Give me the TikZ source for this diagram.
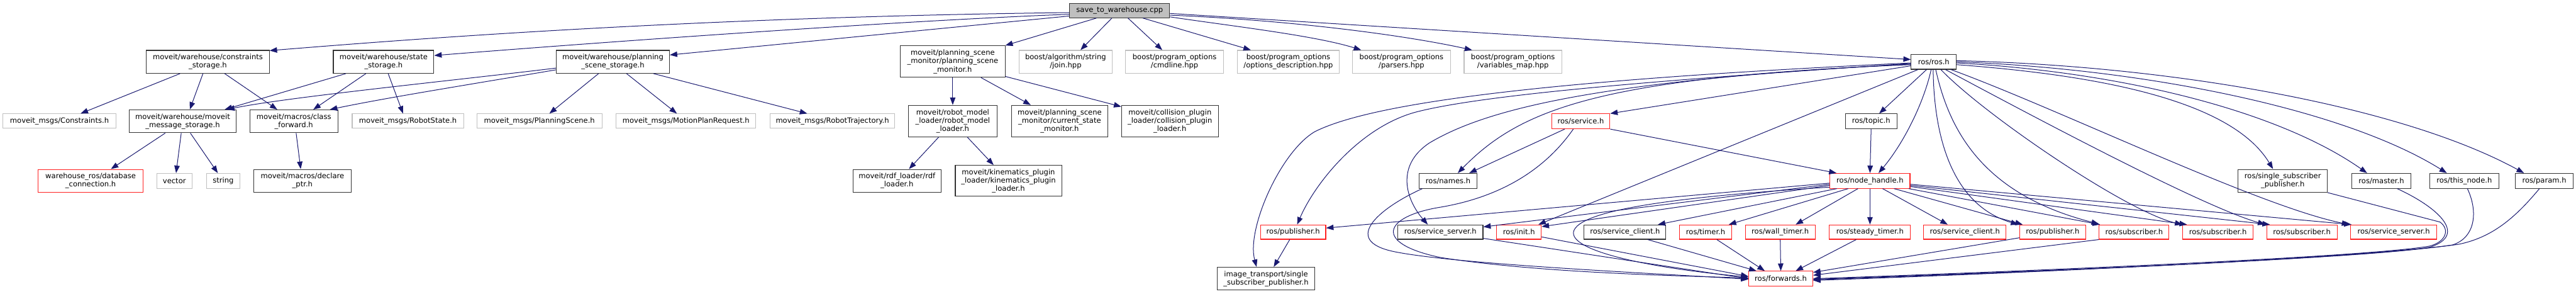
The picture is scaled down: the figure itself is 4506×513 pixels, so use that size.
\documentclass[tikz,border=0pt]{standalone}
\usepackage{fontspec}
\setmainfont{DejaVu Sans}
\usetikzlibrary{calc,arrows.meta}
\definecolor{edgec}{HTML}{191970}
\definecolor{gbord}{HTML}{BFBFBF}
\definecolor{rbord}{HTML}{FF2020}
\definecolor{kbord}{HTML}{333333}
\tikzset{
  base/.style={rectangle, inner sep=0pt, align=center, fill=white, line width=1.2pt,
    font=\fontsize{12.7}{14.6}\selectfont},
  bk/.style={base, draw=kbord},
  gy/.style={base, draw=gbord},
  rd/.style={base, draw=rbord},
  rootbox/.style={base, draw=kbord, fill=gbord},
  sz/.style 2 args={minimum width=#1pt, minimum height=#2pt},
  arr/.style={draw=edgec, line width=1.1pt, -{Triangle[length=13pt,width=9.5pt]}},
}
\begin{document}
\begin{tikzpicture}[x=1pt,y=-1pt]
\fill[white] (0,0) rectangle (4506,513);
\useasboundingbox (0,0) rectangle (4506,513);

% layer 0/1
\node[rootbox, sz={175}{25}] (S) at (1958.5,18.5) {save\_to\_warehouse.cpp};
\node[bk, sz={215}{40}] (cs) at (363.5,108) {moveit/warehouse/constraints\\\_storage.h};
\node[bk, sz={176}{40}] (ss) at (671,108) {moveit/warehouse/state\\\_storage.h};
\node[bk, sz={198}{40}] (pss) at (1072,108) {moveit/warehouse/planning\\\_scene\_storage.h};
\node[bk, sz={183}{55}] (psm) at (1666.5,107.5) {moveit/planning\_scene\\\_monitor/planning\_scene\\\_monitor.h};
\node[gy, sz={162}{40}] (join) at (1864,108) {boost/algorithm/string\\/join.hpp};
\node[gy, sz={171}{40}] (cmd) at (2054.5,108) {boost/program\_options\\/cmdline.hpp};
\node[gy, sz={179}{40}] (od) at (2253.5,108) {boost/program\_options\\/options\_description.hpp};
\node[gy, sz={171}{40}] (par) at (2451.5,108) {boost/program\_options\\/parsers.hpp};
\node[gy, sz={171}{40}] (vm) at (2646.5,108) {boost/program\_options\\/variables\_map.hpp};
\node[bk, sz={79}{26}] (ros) at (3382.5,108) {ros/ros.h};

% layer 2
\node[gy, sz={198}{25}] (cons) at (104,211.5) {moveit\_msgs/Constraints.h};
\node[bk, sz={187}{40}] (ms) at (319.5,212) {moveit/warehouse/moveit\\\_message\_storage.h};
\node[bk, sz={154}{40}] (cf) at (514,212) {moveit/macros/class\\\_forward.h};
\node[gy, sz={195}{25}] (rs) at (713.5,211.5) {moveit\_msgs/RobotState.h};
\node[gy, sz={219}{25}] (psh) at (943.5,211.5) {moveit\_msgs/PlanningScene.h};
\node[gy, sz={244}{25}] (mpr) at (1200,211.5) {moveit\_msgs/MotionPlanRequest.h};
\node[gy, sz={218}{25}] (rtj) at (1456,211.5) {moveit\_msgs/RobotTrajectory.h};
\node[bk, sz={155}{55}] (rml) at (1666.5,211.5) {moveit/robot\_model\\\_loader/robot\_model\\\_loader.h};
\node[bk, sz={169}{55}] (csm) at (1853.5,211.5) {moveit/planning\_scene\\\_monitor/current\_state\\\_monitor.h};
\node[bk, sz={169}{55}] (cpl) at (2046.5,211.5) {moveit/collision\_plugin\\\_loader/collision\_plugin\\\_loader.h};
\node[rd, sz={102}{26}] (svc) at (2765,212) {ros/service.h};
\node[bk, sz={90}{26}] (topic) at (3273,212) {ros/topic.h};

% layer 3
\node[rd, sz={183}{40}] (dbc) at (158.5,316) {warehouse\_ros/database\\\_connection.h};
\node[gy, sz={62}{26}] (vec) at (305,316) {vector};
\node[gy, sz={59}{26}] (str) at (390.5,316) {string};
\node[bk, sz={170}{40}] (dp) at (529,316) {moveit/macros/declare\\\_ptr.h};
\node[bk, sz={154}{40}] (rdf) at (1569,316) {moveit/rdf\_loader/rdf\\\_loader.h};
\node[bk, sz={186}{54}] (kpl) at (1764,316) {moveit/kinematics\_plugin\\\_loader/kinematics\_plugin\\\_loader.h};
\node[bk, sz={102}{26}] (names) at (2533,316) {ros/names.h};
\node[rd, sz={140}{26}] (nh) at (3271,316) {ros/node\_handle.h};
\node[bk, sz={156}{40}] (ssp) at (3993,316) {ros/single\_subscriber\\\_publisher.h};
\node[bk, sz={103}{26}] (master) at (4165.5,316) {ros/master.h};
\node[bk, sz={121}{26}] (thisnode) at (4310.5,316) {ros/this\_node.h};
\node[bk, sz={101}{26}] (param) at (4450.5,316) {ros/param.h};

% layer 4
\node[rd, sz={114}{25}] (pubL) at (2262,405.5) {ros/publisher.h};
\node[bk, sz={149}{25}] (ssrvL) at (2519.5,405.5) {ros/service\_server.h};
\node[rd, sz={78}{25}] (init) at (2657,405.5) {ros/init.h};
\node[bk, sz={143}{25}] (sclL) at (2842.5,405.5) {ros/service\_client.h};
\node[rd, sz={91}{25}] (timer) at (2983.5,405.5) {ros/timer.h};
\node[rd, sz={122}{25}] (wall) at (3114,405.5) {ros/wall\_timer.h};
\node[rd, sz={142}{25}] (steady) at (3271,405.5) {ros/steady\_timer.h};
\node[rd, sz={144}{25}] (sclR) at (3437,405.5) {ros/service\_client.h};
\node[rd, sz={115}{25}] (pubR) at (3590.5,405.5) {ros/publisher.h};
\node[rd, sz={122}{25}] (sub1) at (3733,405.5) {ros/subscriber.h};
\node[rd, sz={123}{25}] (sub2) at (3879.5,405.5) {ros/subscriber.h};
\node[rd, sz={123}{25}] (sub3) at (4026.5,405.5) {ros/subscriber.h};
\node[rd, sz={150}{25}] (ssrvR) at (4187,405.5) {ros/service\_server.h};

% layer 5
\node[bk, sz={171}{40}] (it) at (2214.5,487) {image\_transport/single\\\_subscriber\_publisher.h};
\node[rd, sz={112}{26}] (fwd) at (3115,487) {ros/forwards.h};

% ---- edges from root
\draw[arr] ($(S.west)+(0,3.5)$) .. controls (1200,30) and (700,70) .. ($(cs.north east)+(0,1)$);
\draw[arr] ($(S.west)+(0,6.5)$) .. controls (1600,35) and (1100,70) .. ($(ss.east)+(0,-11)$);
\draw[arr] ($(S.west)+(0,9.5)$) -- ($(pss.east)+(0,-12)$);
\draw[arr] ($(S.south)+(-40.5,0)$) -- (psm.north east);
\draw[arr] ($(S.south)+(-13.5,0)$) -- ($(join.north)+(26,0)$);
\draw[arr] ($(S.south)+(14.5,0)$) -- ($(cmd.north)+(-21.5,0)$);
\draw[arr] ($(S.south)+(40.5,0)$) -- ($(od.north)+(-65.5,0)$);
\draw[arr] ($(S.east)+(0,11)$) .. controls (2150,45) and (2300,62) .. ($(par.north)+(-70.5,0)$);
\draw[arr] ($(S.east)+(0,8)$) .. controls (2250,35) and (2450,60) .. ($(vm.north)+(-71.5,0)$);
\draw[arr] ($(S.east)+(0,5)$) -- ($(ros.west)+(0,-4)$);

% ---- moveit part
\draw[arr] ($(cs.south)+(-48.5,0)$) -- ($(cons.north)+(37,0)$);
\draw[arr] ($(cs.south)+(-8.5,0)$) -- ($(ms.north)+(12.5,0)$);
\draw[arr] ($(cs.south)+(29.5,0)$) -- ($(cf.north)+(-29,0)$);
\draw[arr] ($(ss.south)+(-66,0)$) -- ($(ms.north)+(73.5,0)$);
\draw[arr] ($(ss.south)+(-31,0)$) -- ($(cf.north)+(34,0)$);
\draw[arr] ($(ss.south)+(8,0)$) -- ($(rs.north)+(-8.5,0)$);
\draw[arr] ($(pss.west)+(0,11)$) .. controls (800,140) and (500,170) .. ($(ms.north)+(77.5,0)$);
\draw[arr] ($(pss.west)+(0,14)$) .. controls (820,148) and (680,170) .. ($(cf.north)+(63,0)$);
\draw[arr] ($(pss.south)+(-25,0)$) -- ($(psh.north)+(17.5,0)$);
\draw[arr] ($(pss.south)+(24,0)$) -- ($(mpr.north)+(-16,0)$);
\draw[arr] ($(pss.south)+(71,0)$) -- ($(rtj.north)+(-44,0)$);
\draw[arr] ($(ms.south)+(-30.5,0)$) -- ($(dbc.north)+(35.5,0)$);
\draw[arr] ($(ms.south)+(-2.5,0)$) -- ($(vec.north)+(3,0)$);
\draw[arr] ($(ms.south)+(13.5,0)$) -- ($(str.north)+(-9.5,0)$);
\draw[arr] ($(cf.south)+(4,0)$) -- ($(dp.north)+(-3,0)$);
\draw[arr] (psm.south) -- (rml.north);
\draw[arr] ($(psm.south)+(49.5,0)$) -- ($(csm.north)+(-50.5,0)$);
\draw[arr] ($(psm.south east)+(0,-2)$) -- ($(cpl.north west)+(0,3)$);
\draw[arr] ($(rml.south)+(-24.5,0)$) -- ($(rdf.north)+(21,0)$);
\draw[arr] ($(rml.south)+(25.5,0)$) -- ($(kpl.north)+(-26,0)$);

% ---- ros.h
\draw[arr] ($(ros.west)+(0,2)$) .. controls (2700,140) and (2400,180) .. (2300,230)
   .. controls (2240,265) and (2180,400) .. ($(it.north)+(-16.5,0)$);
\draw[arr] ($(ros.west)+(0,3)$) .. controls (2900,140) and (2600,165) .. (2480,195)
   .. controls (2380,220) and (2300,320) .. ($(pubL.north)+(7,0)$);
\draw[arr] ($(ros.west)+(0,4)$) .. controls (2800,140) and (2600,190) .. (2500,250)
   .. controls (2440,290) and (2460,350) .. ($(ssrvL.north)+(-22,0)$);
\draw[arr] ($(ros.west)+(0,5)$) .. controls (2800,135) and (2660,190) .. ($(names.north)+(17,0)$);
\draw[arr] ($(ros.west)+(0,7)$) -- (svc.north east);
\draw[arr] ($(ros.south)+(-27.5,0)$) -- ($(init.north)+(34,0)$);
\draw[arr] ($(ros.south)+(-12.5,0)$) -- ($(topic.north)+(14,0)$);
\draw[arr] ($(ros.south)+(-4.5,0)$) .. controls (3365,180) and (3330,250) .. ($(nh.north)+(15,0)$);
\draw[arr] ($(ros.south)+(-1,0)$) .. controls (3383,250) and (3420,360) .. ($(pubR.north west)+(-2,0)$);
\draw[arr] ($(ros.south)+(3.5,0)$) .. controls (3410,230) and (3470,340) .. ($(sub1.north west)+(0,-1)$);
\draw[arr] ($(ros.south)+(12.5,0)$) .. controls (3470,200) and (3720,370) .. (sub2.north west);
\draw[arr] ($(ros.south)+(20.5,0)$) .. controls (3550,200) and (3850,360) .. ($(sub3.north west)+(-2,0)$);
\draw[arr] ($(ros.south east)+(-10,0)$) .. controls (3600,190) and (3950,360) .. ($(ssrvR.north west)+(-2,0)$);
\draw[arr] ($(ros.east)+(0,5)$) .. controls (3650,130) and (3900,170) .. ($(ssp.north)+(-17,0)$);
\draw[arr] ($(ros.east)+(0,2)$) .. controls (3700,125) and (3980,190) .. ($(master.north)+(-25,0)$);
\draw[arr] (ros.east) .. controls (3750,120) and (4100,190) .. ($(thisnode.north)+(-30.5,0)$);
\draw[arr] ($(ros.east)+(0,-2)$) .. controls (3800,115) and (4200,185) .. ($(param.north)+(-35.5,0)$);

% ---- service.h, names.h, topic.h
\draw[arr] ($(svc.south)+(-28,0)$) -- ($(names.north)+(37,0)$);
\draw[arr] (svc.south east) -- ($(nh.north west)+(12,0)$);
\draw[arr] ($(svc.south)+(-13,0)$) .. controls (2700,300) and (2620,345) .. (2520,362)
   .. controls (2420,378) and (2400,425) .. (2520,450)
   .. controls (2700,478) and (2950,482) .. ($(fwd.west)+(0,-1)$);
\draw[arr] ($(names.south)+(-45,0)$) .. controls (2420,360) and (2340,420) .. (2440,440)
   .. controls (2550,462) and (2900,478) .. ($(fwd.west)+(0,1)$);
\draw[arr] (topic.south) -- (nh.north);

% ---- node_handle.h
\draw[arr] ($(nh.west)+(0,4)$) -- ($(pubL.east)+(0,-7)$);
\draw[arr] ($(nh.west)+(0,6)$) -- ($(ssrvL.east)+(0,-9)$);
\draw[arr] ($(nh.west)+(0,8)$) -- ($(init.east)+(0,-9.5)$);
\draw[arr] ($(nh.west)+(0,11)$) .. controls (3000,340) and (2770,360) .. (2753,403)
   .. controls (2740,440) and (2900,470) .. ($(fwd.west)+(0,-3)$);
\draw[arr] ($(nh.south)+(-58,0)$) -- ($(sclL.north)+(57.5,0)$);
\draw[arr] ($(nh.south)+(-38,0)$) -- ($(timer.north)+(40.5,0)$);
\draw[arr] ($(nh.south)+(-21,0)$) -- ($(wall.north)+(27,0)$);
\draw[arr] (nh.south) -- (steady.north);
\draw[arr] ($(nh.south)+(22,0)$) -- ($(sclR.north)+(-30,0)$);
\draw[arr] ($(nh.south)+(42,0)$) -- ($(pubR.north)+(-52.5,0)$);
\draw[arr] ($(nh.south east)+(-3,0)$) -- ($(sub1.north west)+(2,0)$);
\draw[arr] ($(nh.east)+(0,10)$) -- ($(sub2.north west)+(8,0)$);
\draw[arr] ($(nh.east)+(0,8)$) -- ($(sub3.north west)+(6,0)$);
\draw[arr] ($(nh.east)+(0,6)$) -- ($(ssrvR.north west)+(2,0)$);

% ---- into forwards.h
\draw[arr] ($(init.east)+(0,8.5)$) -- ($(fwd.west)+(0,-4)$);
\draw[arr] ($(ssrvL.east)+(0,11)$) -- ($(fwd.west)+(0,0)$);
\draw[arr] ($(sclL.south)+(39.5,0)$) -- ($(fwd.north west)+(14,0)$);
\draw[arr] ($(timer.south)+(19.5,0)$) -- ($(fwd.north)+(-28,0)$);
\draw[arr] (wall.south) -- (fwd.north);
\draw[arr] ($(steady.south)+(-24,0)$) -- ($(fwd.north)+(26,0)$);
\draw[arr] ($(pubR.west)+(0,10)$) -- ($(fwd.east)+(0,-11)$);
\draw[arr] (sub1.south west) -- ($(fwd.east)+(0,-6)$);
\draw[arr] (ssp.south east) -- (4268,388) .. controls (4285,400) and (4280,422) .. (4250,430)
   .. controls (4150,448) and (3600,472) .. (fwd.east);
\draw[arr] ($(master.south)+(27.5,0)$) .. controls (4260,360) and (4320,410) .. (4250,432)
   .. controls (4150,450) and (3600,473) .. ($(fwd.east)+(0,1)$);
\draw[arr] ($(thisnode.south)+(5.5,0)$) .. controls (4335,370) and (4330,415) .. (4290,428)
   .. controls (4150,450) and (3600,474) .. ($(fwd.east)+(0,2)$);
\draw[arr] ($(param.south)+(-8.5,0)$) .. controls (4400,380) and (4360,415) .. (4300,427)
   .. controls (4150,448) and (3600,475) .. ($(fwd.east)+(0,3)$);

% ---- publisher -> image_transport
\draw[arr] ($(pubL.south)+(-6,0)$) -- ($(it.north)+(13.5,0)$);
\end{tikzpicture}
\end{document}
